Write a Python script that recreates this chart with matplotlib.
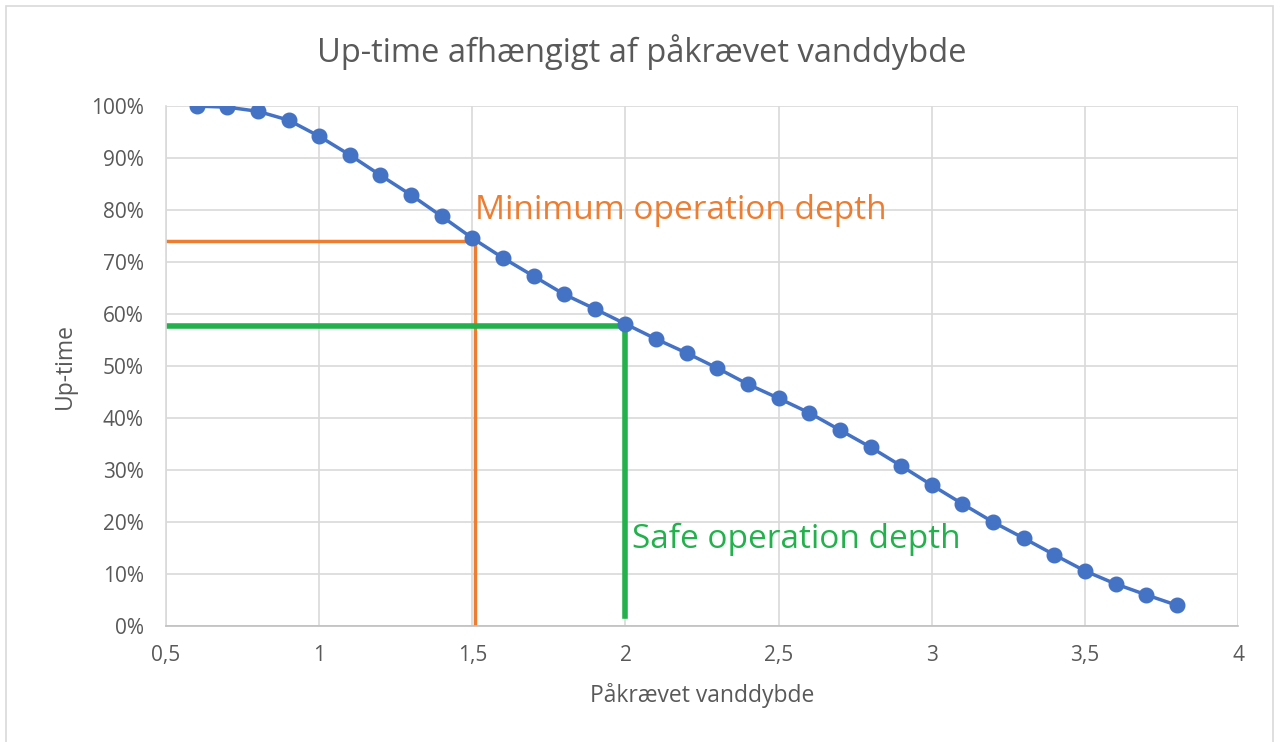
import matplotlib.pyplot as plt
from matplotlib.ticker import FuncFormatter
from matplotlib.patches import Rectangle

plt.rcParams['font.family'] = ['Open Sans', 'DejaVu Sans']

# data
depth = [0.6, 0.7, 0.8, 0.9, 1.0, 1.1, 1.2, 1.3, 1.4, 1.5, 1.6, 1.7, 1.8, 1.9, 2.0,
         2.1, 2.2, 2.3, 2.4, 2.5, 2.6, 2.7, 2.8, 2.9, 3.0, 3.1, 3.2, 3.3, 3.4, 3.5,
         3.6, 3.7, 3.8]
uptime = [1.000, 0.998, 0.990, 0.973, 0.942, 0.906, 0.867, 0.829, 0.788, 0.746,
          0.708, 0.673, 0.638, 0.610, 0.581, 0.552, 0.525, 0.496, 0.465, 0.438,
          0.410, 0.377, 0.344, 0.308, 0.271, 0.235, 0.200, 0.169, 0.137, 0.106,
          0.081, 0.060, 0.040]

min_depth = 1.51
min_uptime = 0.740
safe_depth = 2.0
safe_uptime = 0.577

fig = plt.figure(figsize=(12.83, 7.42), dpi=100)
fig.patches.append(Rectangle((0.005, -0.01), 0.987, 1.002, transform=fig.transFigure,
                             fill=False, edgecolor='#d9d9d9', linewidth=1.2))
ax = fig.add_axes([0.1294, 0.1563, 0.8356, 0.7007])

ax.plot(depth, uptime, color='#4472C4', linewidth=2.5, marker='o', markersize=10.5, zorder=3)

# orange lines
ax.plot([0.5, min_depth], [min_uptime, min_uptime], color='#ED7D31', linewidth=2.5, zorder=2)
ax.plot([min_depth, min_depth], [min_uptime, 0], color='#ED7D31', linewidth=2.5, zorder=2)
# green lines
ax.plot([0.5, safe_depth], [safe_uptime, safe_uptime], color='#22B14C', linewidth=4, zorder=2)
ax.plot([safe_depth, safe_depth], [safe_uptime, 0.02], color='#22B14C', linewidth=4, zorder=2)

ax.text(1.51, 0.80, 'Minimum operation depth', color='#ED7D31', fontsize=24, va='center')
ax.text(2.02, 0.167, 'Safe operation depth', color='#22B14C', fontsize=24, va='center')

ax.set_xlim(0.5, 4)
ax.set_ylim(0, 1)
ax.set_xticks([0.5, 1, 1.5, 2, 2.5, 3, 3.5, 4])
ax.set_yticks([i / 10 for i in range(11)])
ax.xaxis.set_major_formatter(FuncFormatter(lambda v, p: ('%g' % v).replace('.', ',')))
ax.yaxis.set_major_formatter(FuncFormatter(lambda v, p: '%d%%' % round(v * 100)))
ax.grid(True, color='#d9d9d9', linewidth=1.2)
ax.set_axisbelow(True)
for s in ['top', 'right']:
    ax.spines[s].set_visible(False)
ax.spines['left'].set_color('#d9d9d9')
ax.spines['bottom'].set_color('#bfbfbf')
ax.spines['left'].set_linewidth(1.2)
ax.spines['bottom'].set_linewidth(1.2)
ax.tick_params(length=0, labelsize=15, colors='#595959')
ax.tick_params(axis='y', pad=16)
ax.tick_params(axis='x', pad=14)

ax.set_xlabel('Påkrævet vanddybde', fontsize=16.5, color='#595959', labelpad=12)
ax.set_ylabel('Up-time', fontsize=16.5, color='#595959', labelpad=10)
fig.text(0.5, 0.93, 'Up-time afhængigt af påkrævet vanddybde', fontsize=23.5,
         color='#595959', ha='center', va='center')

fig.savefig('out.png', dpi=100)
